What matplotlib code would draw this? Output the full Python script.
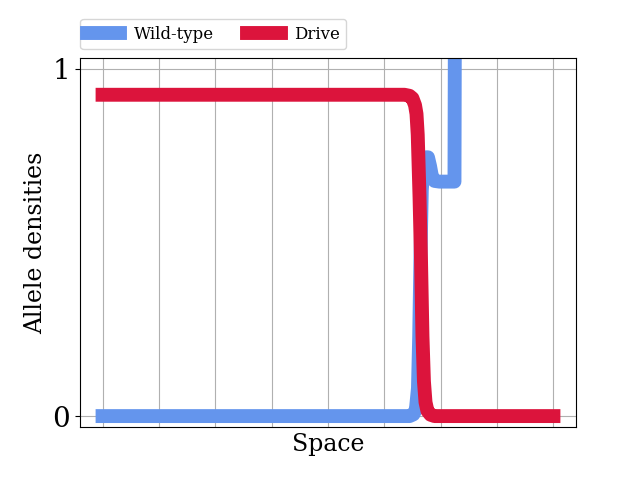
import matplotlib
matplotlib.use("Agg")
import matplotlib.pyplot as plt

plt.rcParams['font.family'] = ['DejaVu Serif']

# wild-type allele profile along space
x_wild = [0, 27.23, 27.58, 27.80, 27.98, 28.09, 28.20, 28.32, 28.47, 28.69, 28.87,
          29.05, 29.22, 29.45, 29.89, 31.22, 31.26, 40]
wild = [0, 0, 0.005, 0.02, 0.08, 0.23, 0.45, 0.65, 0.72, 0.745, 0.745,
        0.72, 0.69, 0.677, 0.675, 0.675, 1.2, 1.2]

# drive allele profile along space
x_drive = [0, 26.78, 27.23, 27.49, 27.72, 27.85, 27.96, 28.12, 28.25, 28.38, 28.51,
           28.65, 28.82, 29.09, 29.45, 40]
drive = [0.925, 0.925, 0.922, 0.915, 0.895, 0.87, 0.81, 0.63, 0.45, 0.23, 0.1,
         0.04, 0.015, 0.004, 0.0, 0.0]

fig, ax = plt.subplots(figsize=(6.4, 4.8), dpi=100)

ax.plot(x_wild, wild, color='cornflowerblue', lw=10, label='Wild-type')
ax.plot(x_drive, drive, color='crimson', lw=10, label='Drive')

ax.set_ylim(-0.032, 1.032)
ax.set_xticks(range(0, 41, 5))
ax.set_yticks([0, 1])
ax.tick_params(axis='x', bottom=False, labelbottom=False)
ax.tick_params(axis='y', labelsize=20)
ax.grid(True)

ax.set_xlabel('Space', fontsize=17)
ax.set_ylabel('Allele densities', fontsize=17)
ax.legend(loc='lower left', bbox_to_anchor=(-0.016, 1.0), ncol=2, fontsize=12)

plt.savefig('out.png')
